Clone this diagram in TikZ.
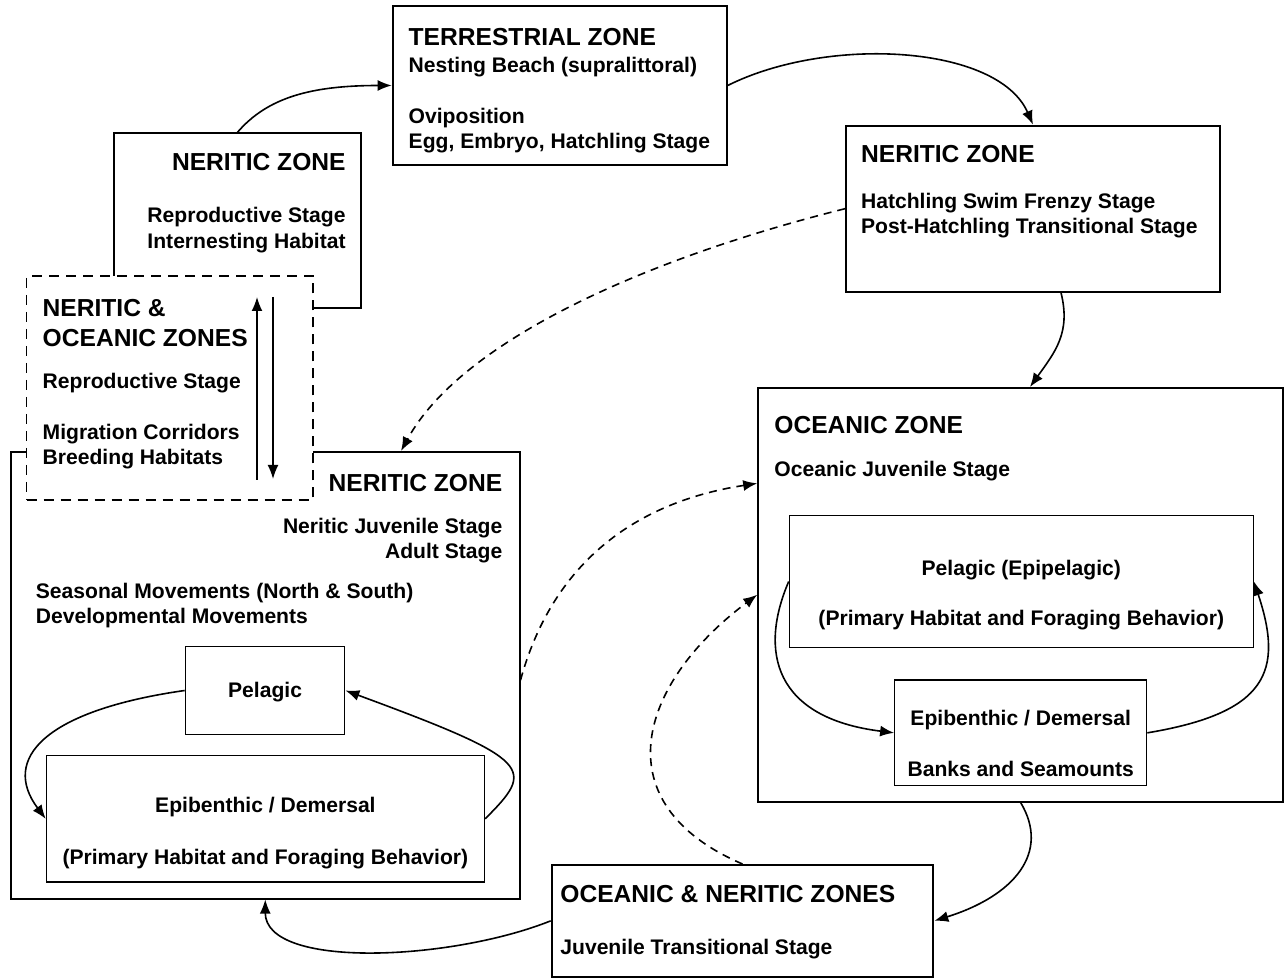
\documentclass[tikz,border=0pt]{standalone}
\usepackage{fontspec}
\setmainfont{Liberation Sans}
\usetikzlibrary{arrows.meta,fit}
\tikzset{
>={Latex[length=7pt,width=5.5pt]},
zonebox/.style={draw,line width=1pt,fill=white,inner sep=0pt},
mixbox/.style={zonebox,line width=0.9pt,dash pattern=on 5pt off 3.5pt},
habbox/.style={draw,line width=0.6pt,inner sep=0pt},
headtxt/.style={inner sep=0pt,font=\fontsize{12.3}{14}\selectfont\bfseries},
bodytxt/.style={inner sep=0pt,font=\fontsize{10.55}{12.5}\selectfont\bfseries},
flow/.style={->,line width=0.8pt},
hop/.style={flow,dash pattern=on 4pt off 3pt}
}

\begin{document}
\begin{tikzpicture}[x=0.5pt,y=-0.5pt]
\useasboundingbox (0,0) rectangle (1286,978);

% zones
\node[zonebox,fit={(392.7,6) (726.7,165)}] (terr) {};
\node[zonebox,fit={(114,133.3) (361,307.7)}] (nerRep) {};
\node[zonebox,fit={(846,125.7) (1220,291.7)}] (hatch) {};
\node[zonebox,fit={(11,452) (519.5,898.5)}] (nerBig) {};
\node[mixbox,fit={(26.5,276) (313,500)}] (mixed) {};
\node[zonebox,fit={(758.2,388) (1283,801.5)}] (ocean) {};
\node[zonebox,fit={(551.7,865) (933.3,976.7)}] (trans) {};

% habitats
\node[habbox,fit={(185.3,646.2) (344.8,734.8)}] (pelN) {};
\node[habbox,fit={(46.3,755.8) (484.5,881.9)}] (epiN) {};
\node[habbox,fit={(789.3,515.7) (1253.3,647.3)}] (pelO) {};
\node[habbox,fit={(894.7,680) (1146.7,785.7)}] (epiO) {};

% texts
\node[headtxt,anchor=base west] (terrHd) at (408.3,46) {TERRESTRIAL ZONE};
\node[bodytxt,anchor=base west] (terrA) at (408.3,72.7) {Nesting Beach (supralittoral)};
\node[bodytxt,anchor=base west] (terrB) at (408.3,124) {Oviposition};
\node[bodytxt,anchor=base west] (terrC) at (408.3,148.3) {Egg, Embryo, Hatchling Stage};

\node[headtxt,anchor=base east] (nerRepHd) at (346,170.7) {NERITIC ZONE};
\node[bodytxt,anchor=base east] (nerRepA) at (346,222.7) {Reproductive Stage};
\node[bodytxt,anchor=base east] (nerRepB) at (346,248.3) {Internesting Habitat};

\node[headtxt,anchor=base west] (mixHdA) at (42.3,316.7) {NERITIC \&};
\node[headtxt,anchor=base west] (mixHdB) at (42.3,346.7) {OCEANIC ZONES};
\node[bodytxt,anchor=base west] (mixA) at (42.3,388.7) {Reproductive Stage};
\node[bodytxt,anchor=base west] (mixB) at (42.3,439.3) {Migration Corridors};
\node[bodytxt,anchor=base west] (mixC) at (42.3,464.3) {Breeding Habitats};

\node[headtxt,anchor=base west] (hatchHd) at (860.7,162.3) {NERITIC ZONE};
\node[bodytxt,anchor=base west] (hatchA) at (860.7,208.3) {Hatchling Swim Frenzy Stage};
\node[bodytxt,anchor=base west] (hatchB) at (860.7,233.3) {Post-Hatchling Transitional Stage};

\node[headtxt,anchor=base east] (nerBigHd) at (502.7,491.4) {NERITIC ZONE};
\node[bodytxt,anchor=base east] (nerBigA) at (502.7,534) {Neritic Juvenile Stage};
\node[bodytxt,anchor=base east] (nerBigB) at (502.7,559) {Adult Stage};
\node[bodytxt,anchor=base west] (nerBigC) at (35.5,599) {Seasonal Movements (North \& South)};
\node[bodytxt,anchor=base west] (nerBigD) at (35.5,624) {Developmental Movements};

\node[bodytxt,anchor=base] (pelNA) at (265.05,697.6) {Pelagic};
\node[bodytxt,anchor=base] (epiNA) at (265.4,812.6) {Epibenthic / Demersal};
\node[bodytxt,anchor=base] (epiNB) at (265.4,864) {(Primary Habitat and Foraging Behavior)};

\node[headtxt,anchor=base west] (oceanHd) at (774,433.8) {OCEANIC ZONE};
\node[bodytxt,anchor=base west] (oceanA) at (774,476.5) {Oceanic Juvenile Stage};
\node[bodytxt,anchor=base] (pelOA) at (1021.3,575) {Pelagic (Epipelagic)};
\node[bodytxt,anchor=base] (pelOB) at (1021.3,625) {(Primary Habitat and Foraging Behavior)};
\node[bodytxt,anchor=base] (epiOA) at (1020.7,725.7) {Epibenthic / Demersal};
\node[bodytxt,anchor=base] (epiOB) at (1020.7,776) {Banks and Seamounts};

\node[headtxt,anchor=base west] (transHd) at (560,902.7) {OCEANIC \& NERITIC ZONES};
\node[bodytxt,anchor=base west] (transA) at (560,954) {Juvenile Transitional Stage};

% migration arrows in the dashed zone
\coordinate (upFrom) at (257,480);
\coordinate (upTo) at (257,297);
\coordinate (dnFrom) at (273,297);
\coordinate (dnTo) at (273,479);
\draw[flow] (upFrom) -- (upTo);
\draw[flow] (dnFrom) -- (dnTo);

% life cycle
\draw[flow] (nerRep.north) .. controls +(30,-35) and +(-80,0) .. (terr.west);
\draw[flow] (terr.east) .. controls +(100,-50) and +(-35,-80) .. (hatch.north);
\draw[flow] ([xshift=14pt]hatch.south) .. controls +(10,40) and +(25,-35) .. ([xshift=4.7pt]ocean.north);
\draw[hop] (hatch.west) .. controls +(-200,50) and +(60,-110) .. ([xshift=67.9pt]nerBig.north);
\draw[hop] ([yshift=-2.5pt]nerBig.east) .. controls +(30,-110) and +(-130,20) .. ([yshift=55.7pt]ocean.west);
\draw[hop] (trans.north) .. controls +(-140,-60) and +(-120,90) .. (ocean.west);
\draw[flow] (ocean.south) .. controls +(30,50) and +(80,-25) .. (trans.east);
\draw[flow] (trans.west) .. controls +(-100,40) and +(0,70) .. (nerBig.south);

% habitat shifts
\draw[flow] (pelN.west) .. controls +(-140,20) and +(-45,-60) .. (epiN.west);
\draw[flow] (epiN.east) .. controls +(50,-50) and +(190,70) .. (pelN.east);
\draw[flow] (pelO.west) .. controls +(-30,70) and +(-120,-15) .. (epiO.west);
\draw[flow] (epiO.east) .. controls +(120,-20) and +(30,90) .. (pelO.east);
\end{tikzpicture}
\end{document}
